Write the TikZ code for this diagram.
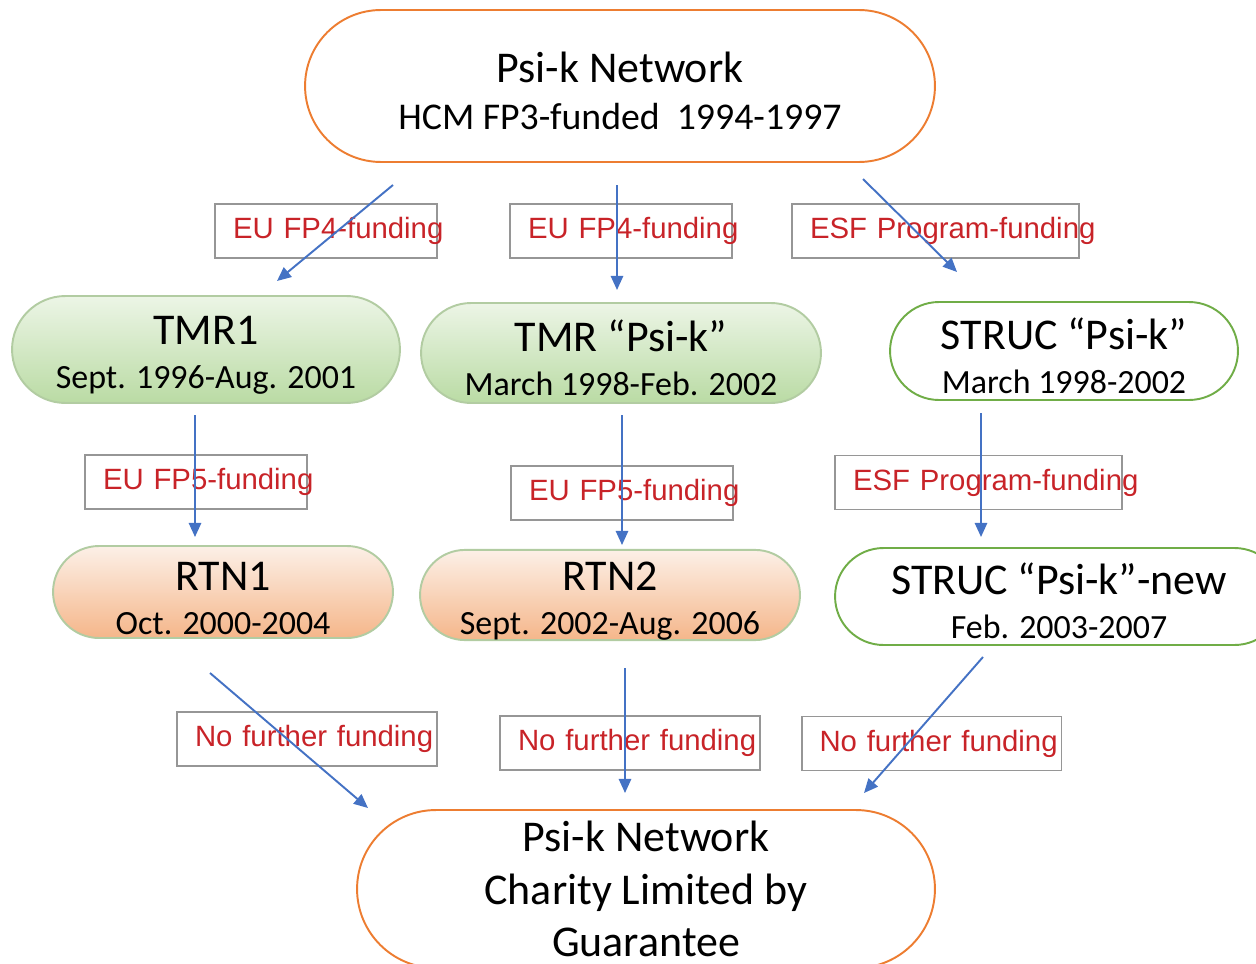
\documentclass[tikz,border=0pt]{standalone}
\usepackage{fontspec}
\setmainfont{Carlito}
\newfontfamily\labelfont{Liberation Sans}
\usetikzlibrary{arrows.meta}
\definecolor{psiorange}{RGB}{237,125,49}
\definecolor{strucgreen}{RGB}{112,173,71}
\definecolor{flowblue}{RGB}{68,114,196}
\definecolor{fundred}{RGB}{200,35,40}
\definecolor{boxgray}{RGB}{150,150,150}
\definecolor{tmrtop}{RGB}{236,245,230}
\definecolor{tmrbot}{RGB}{186,219,164}
\definecolor{rtntop}{RGB}{252,240,231}
\definecolor{rtnbot}{RGB}{245,182,138}
\definecolor{paleedge}{RGB}{178,204,162}
\newcommand\stagename[1]{{\fontsize{25}{25}\selectfont\rule{0pt}{23pt}#1}}
\tikzset{
  stage/.style={rounded corners=#1, line width=1.1pt, align=center, inner sep=0pt,
    font=\fontsize{19.3}{25}\selectfont},
  network/.style={stage=#1, draw=psiorange, fill=white},
  tmr/.style={stage=#1, draw=paleedge, top color=tmrtop, bottom color=tmrbot},
  rtn/.style={stage=#1, draw=paleedge, top color=rtntop, bottom color=rtnbot},
  struc/.style={stage=#1, draw=strucgreen, fill=white},
  fund/.style={draw=boxgray, line width=1.1pt, inner xsep=0.36cm, inner ysep=0pt,
    minimum height=1.08cm, text width=#1, align=left, text=fundred,
    font=\labelfont\fontsize{16.7}{20}\selectfont},
  flow/.style={draw=flowblue, line width=1.1pt, -{Triangle[length=8pt,width=7pt]}}
}
\begin{document}
\begin{tikzpicture}[x=0.02cm, y=-0.02cm]
  \useasboundingbox (0,0) rectangle (1256,963);
  % stages
  \node[network=1.52cm, minimum width=12.6cm, minimum height=3.04cm,
    font=\fontsize{21.5}{26.6}\selectfont] (hcm) at (620,86)
    {\stagename{Psi-k Network}\\HCM FP3-funded~~1994-1997};
  \node[tmr=1.07cm, minimum width=7.76cm, minimum height=2.14cm] (tmr1) at (206,349.5)
    {\stagename{TMR1}\\Sept. 1996-Aug. 2001};
  \node[tmr=1cm, minimum width=8cm, minimum height=2cm] (tmr2) at (621,353)
    {\stagename{TMR “Psi-k”}\\March 1998-Feb. 2002};
  \node[struc=0.98cm, minimum width=6.96cm, minimum height=1.96cm] (struc1) at (1064,351)
    {\stagename{STRUC “Psi-k”}\\March 1998-2002};
  \node[rtn=0.92cm, minimum width=6.8cm, minimum height=1.84cm] (rtn1) at (223,592)
    {\stagename{RTN1}\\Oct. 2000-2004};
  \node[rtn=0.9cm, minimum width=7.6cm, minimum height=1.8cm] (rtn2) at (610,595)
    {\stagename{RTN2}\\Sept. 2002-Aug. 2006};
  \node[struc=0.97cm, minimum width=8.96cm, minimum height=1.94cm] (struc2) at (1059,596.5)
    {\stagename{STRUC “Psi-k”-new}\\Feb. 2003-2007};
  \node[network=1.58cm, minimum width=11.56cm, minimum height=3.16cm,
    font=\fontsize{25}{29.8}\selectfont] (charity) at (646,889)
    {Psi-k Network\\Charity Limited by\\Guarantee};
  % funding labels
  \node[fund=3.72cm] (fp4a) at (326,231) {\mbox{EU FP4-funding}};
  \node[fund=3.72cm] (fp4b) at (621,231) {\mbox{EU FP4-funding}};
  \node[fund=5.02cm] (esfa) at (935.5,231) {\mbox{ESF Program-funding}};
  \node[fund=3.72cm] (fp5a) at (196,482) {\mbox{EU FP5-funding}};
  \node[fund=3.72cm] (fp5b) at (622,493) {\mbox{EU FP5-funding}};
  \node[fund=5.02cm] (esfb) at (978.5,482.5) {\mbox{ESF Program-funding}};
  \node[fund=4.48cm] (nofa) at (307,739) {\mbox{No further funding}};
  \node[fund=4.48cm] (nofb) at (630,743) {\mbox{No further funding}};
  \node[fund=4.48cm] (nofc) at (931.5,743.5) {\mbox{No further funding}};
  % arrow ends
  \coordinate (hcm-l) at (393,185);   \coordinate (tmr1-in) at (277,281);
  \coordinate (hcm-m) at (617,185);   \coordinate (tmr2-in) at (617,290);
  \coordinate (hcm-r) at (863,179);   \coordinate (struc1-in) at (957,272);
  \coordinate (tmr1-out) at (195,415);   \coordinate (rtn1-in) at (195,537);
  \coordinate (tmr2-out) at (622,415);   \coordinate (rtn2-in) at (622,545);
  \coordinate (struc1-out) at (981,413); \coordinate (struc2-in) at (981,537);
  \coordinate (rtn1-out) at (210,673);   \coordinate (charity-l) at (368,808);
  \coordinate (rtn2-out) at (625,668);   \coordinate (charity-m) at (625,793);
  \coordinate (struc2-out) at (983,657); \coordinate (charity-r) at (864,793);
  % arrows
  \draw[flow] (hcm-l) -- (tmr1-in);
  \draw[flow] (hcm-m) -- (tmr2-in);
  \draw[flow] (hcm-r) -- (struc1-in);
  \draw[flow] (tmr1-out) -- (rtn1-in);
  \draw[flow] (tmr2-out) -- (rtn2-in);
  \draw[flow] (struc1-out) -- (struc2-in);
  \draw[flow] (rtn1-out) -- (charity-l);
  \draw[flow] (rtn2-out) -- (charity-m);
  \draw[flow] (struc2-out) -- (charity-r);
\end{tikzpicture}
\end{document}
